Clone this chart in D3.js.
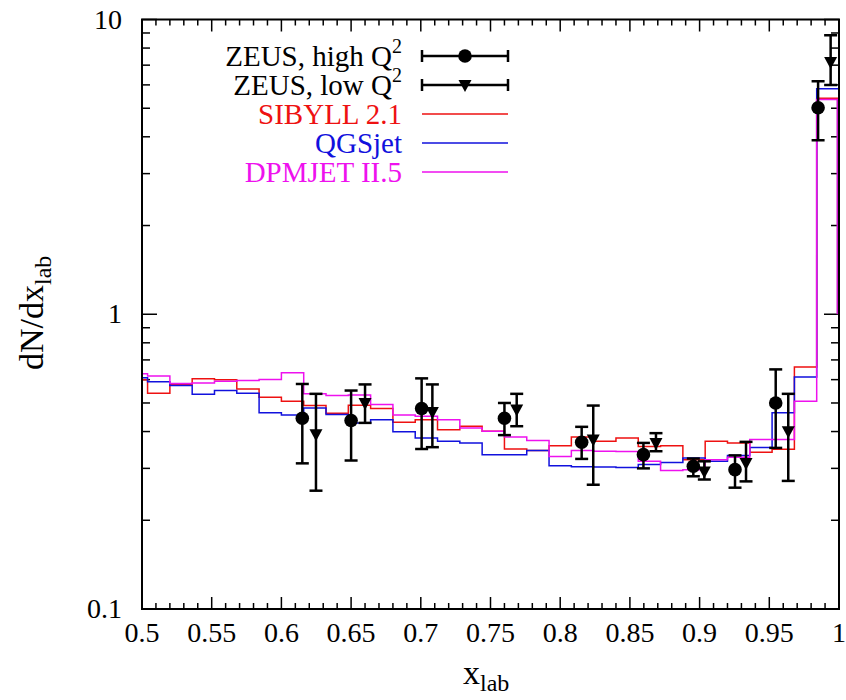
<!DOCTYPE html>
<html>
<head>
<meta charset="utf-8">
<script src="https://cdn.jsdelivr.net/npm/d3@7"></script>
<style>
  body { margin: 0; background: #fff; }
  text { font-family: "Liberation Serif", "Times New Roman", serif; }
</style>
</head>
<body>
<div id="chart"></div>
<script>

// histogram bin edges (x_lab)
var binEdges = [0.5, 0.504, 0.52, 0.536, 0.552, 0.568, 0.584, 0.6, 0.616, 0.632, 0.648,
  0.664, 0.68, 0.696, 0.712, 0.728, 0.744, 0.76, 0.776, 0.792, 0.808, 0.824, 0.84,
  0.856, 0.872, 0.888, 0.904, 0.92, 0.936, 0.952, 0.968, 0.984, 1.0]

var sibyll = [0.60, 0.539, 0.578, 0.604, 0.599, 0.558, 0.523, 0.507, 0.49, 0.461, 0.491,
  0.479, 0.43, 0.439, 0.406, 0.417, 0.401, 0.349, 0.345, 0.358, 0.383, 0.371, 0.380,
  0.356, 0.358, 0.321, 0.371, 0.366, 0.340, 0.348, 0.662, 5.41]

var qgsjet = [0.609, 0.590, 0.573, 0.535, 0.551, 0.539, 0.463, 0.455, 0.481, 0.457, 0.428,
  0.439, 0.399, 0.380, 0.371, 0.366, 0.334, 0.334, 0.345, 0.306, 0.304, 0.303, 0.302,
  0.309, 0.314, 0.325, 0.317, 0.332, 0.353, 0.463, 0.612, 5.82]

var dpmjet = [0.628, 0.617, 0.582, 0.585, 0.593, 0.596, 0.601, 0.633, 0.537, 0.530, 0.532,
  0.494, 0.455, 0.451, 0.439, 0.411, 0.401, 0.383, 0.373, 0.329, 0.345, 0.343, 0.342,
  0.317, 0.295, 0.297, 0.321, 0.327, 0.376, 0.376, 0.507, 5.35]

// ZEUS high Q^2 (circles)
var highX = [0.615, 0.650, 0.7006, 0.760, 0.8154, 0.8597, 0.8955, 0.9254, 0.9546, 0.985]
var highY = [0.444, 0.436, 0.479, 0.444, 0.368, 0.334, 0.305, 0.297, 0.50, 5.02]
var highLo = [0.312, 0.319, 0.349, 0.389, 0.323, 0.300, 0.282, 0.258, 0.352, 3.89]
var highHi = [0.580, 0.551, 0.606, 0.500, 0.415, 0.366, 0.324, 0.332, 0.650, 6.17]

// ZEUS low Q^2 (triangles)
var lowX = [0.6248, 0.660, 0.7083, 0.7688, 0.8237, 0.8687, 0.9034, 0.9333, 0.9636, 0.994]
var lowY = [0.392, 0.500, 0.466, 0.475, 0.376, 0.366, 0.293, 0.313, 0.401, 7.17]
var lowLo = [0.252, 0.428, 0.354, 0.417, 0.264, 0.343, 0.275, 0.271, 0.272, 6.0]
var lowHi = [0.537, 0.578, 0.578, 0.537, 0.490, 0.395, 0.317, 0.369, 0.537, 8.84]

var xTicks = [0.5, 0.55, 0.6, 0.65, 0.7, 0.75, 0.8, 0.85, 0.9, 0.95, 1]
var xTickLabels = ["0.5", "0.55", "0.6", "0.65", "0.7", "0.75", "0.8", "0.85", "0.9", "0.95", "1"]
var yTicks = [0.1, 1, 10]
var yTickLabels = ["0.1", "1", "10"]

var margin = { top: 19.5, left: 142, right: 7, bottom: 91 },
    width = 846 - margin.left - margin.right,
    height = 700 - margin.top - margin.bottom

var svg = d3.select("#chart")
  .append("svg")
  .attr("width", 846)
  .attr("height", 700)
  .append("g")
  .attr("transform", "translate(" + margin.left + "," + margin.top + ")")

var x = d3.scaleLinear().domain([0.5, 1]).range([0, width])
var y = d3.scaleLog().domain([0.1, 10]).range([height, 0])

svg.append("clipPath").attr("id", "clip")
  .append("rect").attr("width", width).attr("height", height)

// ticks, drawn inward on all four sides
var minorX = d3.range(50, 101).map(function(d) { return d / 100 })
var minorY = []
;[0.1, 1].forEach(function(dec) {
  for (var k = 2; k <= 9; k++) minorY.push(dec * k)
})

var ticks = svg.append("g").attr("stroke", "#000").attr("stroke-width", 1.5)

minorX.forEach(function(v) {
  var major = Math.abs(v * 20 - Math.round(v * 20)) < 1e-6
  var len = major ? 12 : 6
  ticks.append("line").attr("x1", x(v)).attr("x2", x(v)).attr("y1", height).attr("y2", height - len)
  ticks.append("line").attr("x1", x(v)).attr("x2", x(v)).attr("y1", 0).attr("y2", len)
})
minorY.concat(yTicks).forEach(function(v) {
  var len = yTicks.indexOf(v) >= 0 ? 15 : 8
  ticks.append("line").attr("x1", 0).attr("x2", len).attr("y1", y(v)).attr("y2", y(v))
  ticks.append("line").attr("x1", width).attr("x2", width - len).attr("y1", y(v)).attr("y2", y(v))
})

// tick labels
svg.selectAll(".xlab")
  .data(xTicks)
  .enter().append("text")
  .attr("x", function(d) { return x(d) })
  .attr("y", height + 33)
  .attr("text-anchor", "middle")
  .style("font-size", "28px")
  .text(function(d, i) { return xTickLabels[i] })

svg.selectAll(".ylab")
  .data(yTicks)
  .enter().append("text")
  .attr("x", -20)
  .attr("y", function(d) { return y(d) + 9 })
  .attr("text-anchor", "end")
  .style("font-size", "28px")
  .text(function(d, i) { return yTickLabels[i] })

// axis titles
var xt = svg.append("text")
  .attr("x", 463 - margin.left)
  .attr("y", 684 - margin.top)
  .style("font-size", "34px")
xt.append("tspan").text("x")
xt.append("tspan").attr("dy", 7).style("font-size", "24px").text("lab")

var yt = svg.append("text")
  .attr("transform", "translate(" + (43 - margin.left) + "," + (370 - margin.top) + ") rotate(-90)")
  .style("font-size", "34px")
yt.append("tspan").text("dN/dx")
yt.append("tspan").attr("dy", 8).style("font-size", "24px").text("lab")

// model histograms
var models = [
  { name: "SIBYLL 2.1", values: sibyll, color: "#ee1111" },
  { name: "QGSjet", values: qgsjet, color: "#1111dd" },
  { name: "DPMJET II.5", values: dpmjet, color: "#ee11ee" }
]

var stepLine = d3.line()
  .x(function(d) { return x(d[0]) })
  .y(function(d) { return y(d[1]) })
  .curve(d3.curveStepAfter)

var plot = svg.append("g").attr("clip-path", "url(#clip)")

models.forEach(function(m) {
  var pts = m.values.map(function(v, i) { return [binEdges[i], v] })
  pts.push([binEdges[binEdges.length - 1], m.values[m.values.length - 1]])
  plot.append("path")
    .attr("d", stepLine(pts))
    .attr("fill", "none")
    .attr("stroke", m.color)
    .attr("stroke-width", 1.5)
})

// magenta closing drop along the right edge
plot.append("line")
  .attr("x1", x(1) - 1).attr("x2", x(1) - 1)
  .attr("y1", y(dpmjet[dpmjet.length - 1])).attr("y2", y(1))
  .attr("stroke", "#cc11cc").attr("stroke-width", 3)

// ZEUS points with error bars
function errorBars(xs, ys, lo, hi) {
  var g = plot.append("g").attr("stroke", "#000").attr("stroke-width", 2.5)
  xs.forEach(function(v, i) {
    g.append("line").attr("x1", x(v)).attr("x2", x(v)).attr("y1", y(lo[i])).attr("y2", y(hi[i]))
    g.append("line").attr("x1", x(v) - 6.5).attr("x2", x(v) + 6.5).attr("y1", y(lo[i])).attr("y2", y(lo[i]))
    g.append("line").attr("x1", x(v) - 6.5).attr("x2", x(v) + 6.5).attr("y1", y(hi[i])).attr("y2", y(hi[i]))
  })
}

function circleMark(g, cx, cy) {
  g.append("circle").attr("cx", cx).attr("cy", cy).attr("r", 6.8).attr("fill", "#000")
}
function triMark(g, cx, cy) {
  g.append("path")
    .attr("d", "M" + (cx - 6.5) + "," + (cy - 5) + "L" + (cx + 6.5) + "," + (cy - 5) + "L" + cx + "," + (cy + 7) + "Z")
    .attr("fill", "#000")
}

errorBars(highX, highY, highLo, highHi)
errorBars(lowX, lowY, lowLo, lowHi)

var marks = plot.append("g")
highX.forEach(function(v, i) { circleMark(marks, x(v), y(highY[i])) })
lowX.forEach(function(v, i) { triMark(marks, x(v), y(lowY[i])) })

// frame
svg.append("rect")
  .attr("width", width).attr("height", height)
  .attr("fill", "none").attr("stroke", "#000").attr("stroke-width", 2)

// legend
var legendRows = [
  { label: "ZEUS, high Q", sup: true, color: "#000", type: "circle" },
  { label: "ZEUS, low Q", sup: true, color: "#000", type: "tri" },
  { label: "SIBYLL 2.1", color: "#ee1111", type: "line" },
  { label: "QGSjet", color: "#1111dd", type: "line" },
  { label: "DPMJET II.5", color: "#ee11ee", type: "line" }
]

var lg = svg.append("g").attr("transform", "translate(0," + (56 - margin.top) + ")")
var textRight = 402 - margin.left,
    l1 = 422 - margin.left,
    l2 = 508 - margin.left,
    lm = 465 - margin.left

legendRows.forEach(function(r, i) {
  var ly = i * 29
  var t = lg.append("text")
    .attr("x", textRight)
    .attr("y", ly + 10)
    .attr("text-anchor", "end")
    .attr("fill", r.color)
    .style("font-size", "29px")
  t.append("tspan").text(r.label)
  if (r.sup) {
    t.append("tspan").attr("dy", -13).style("font-size", "20px").text("2")
  }
  if (r.type === "line") {
    lg.append("line").attr("x1", l1).attr("x2", l2).attr("y1", ly).attr("y2", ly)
      .attr("stroke", r.color).attr("stroke-width", 1.5)
  } else {
    var g = lg.append("g").attr("stroke", "#000").attr("stroke-width", 2.5)
    g.append("line").attr("x1", l1).attr("x2", l2).attr("y1", ly).attr("y2", ly)
    g.append("line").attr("x1", l1).attr("x2", l1).attr("y1", ly - 6).attr("y2", ly + 6)
    g.append("line").attr("x1", l2).attr("x2", l2).attr("y1", ly - 6).attr("y2", ly + 6)
    if (r.type === "circle") circleMark(lg, lm, ly)
    else triMark(lg, lm, ly)
  }
})

</script>
</body>
</html>
